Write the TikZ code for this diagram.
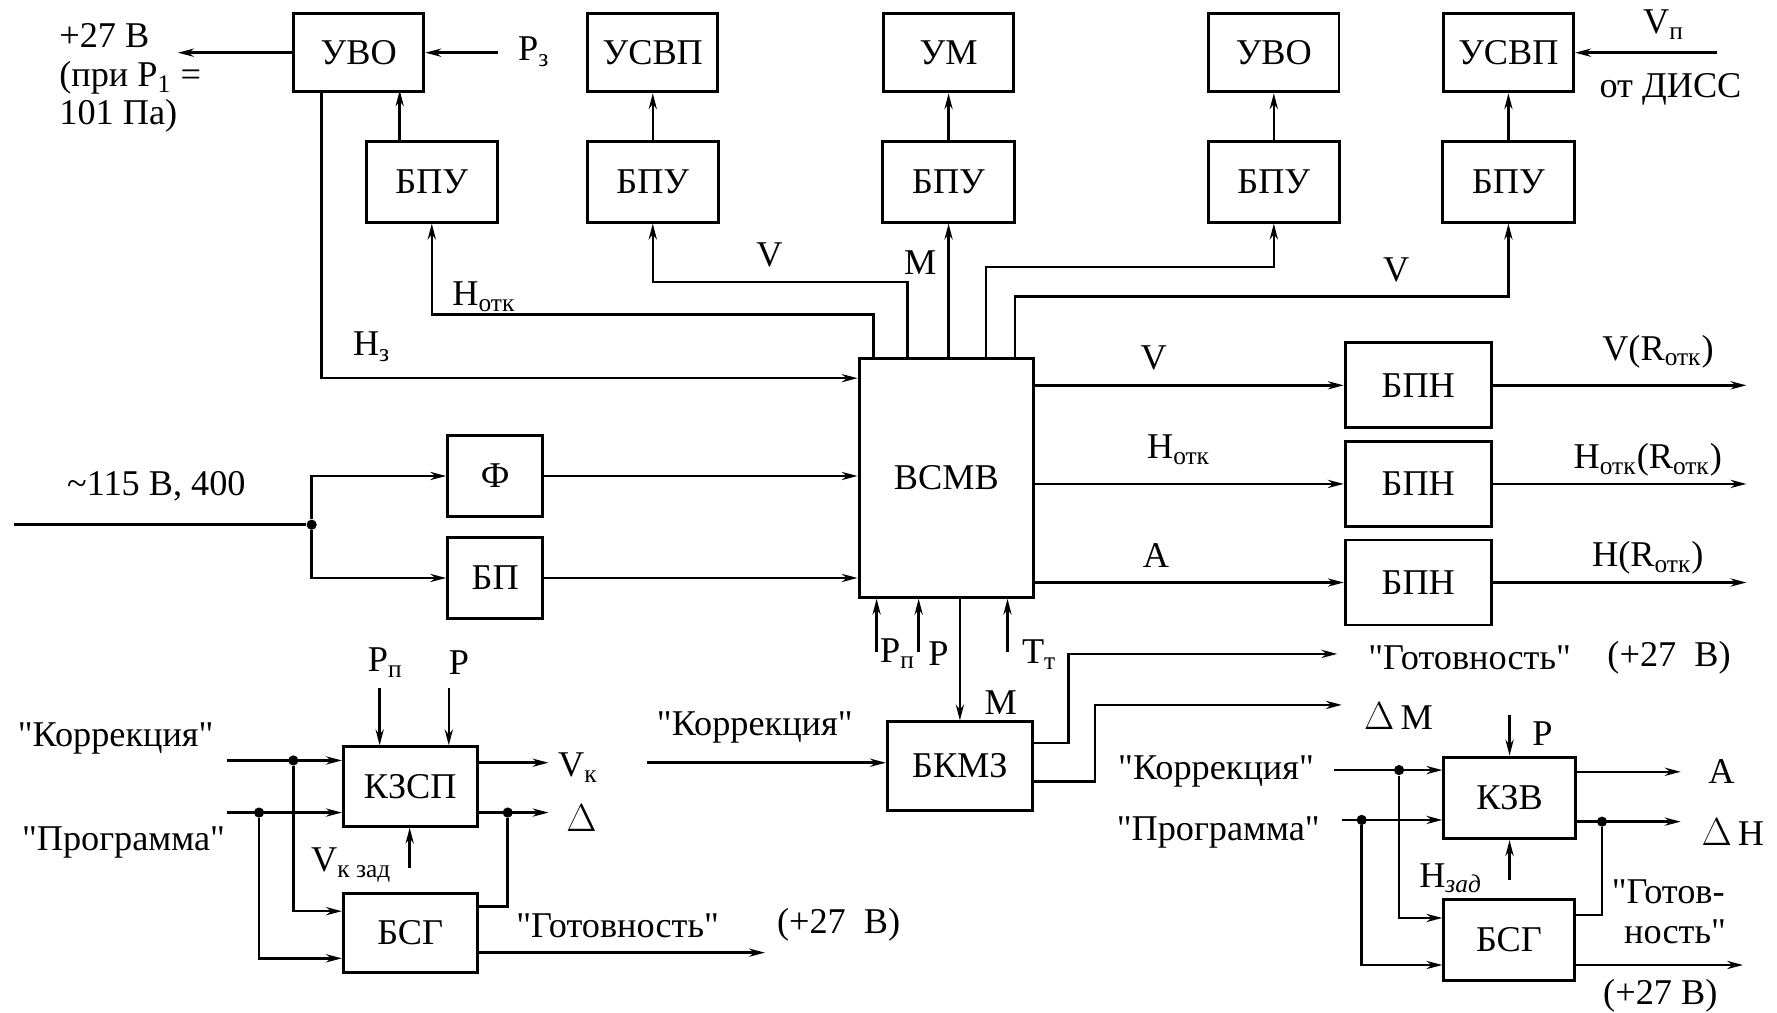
\documentclass[tikz,border=0pt]{standalone}
\usepackage{fontspec}
\setmainfont{Liberation Serif}[Ligatures=TeXOff]
\usetikzlibrary{arrows.meta}
\tikzset{
  blk/.style n args={2}{draw, line width=1.3pt, minimum width=#1, minimum height=#2, inner sep=0pt, font=\fontsize{16}{18}\selectfont},
  wire/.style={line width=1.1pt},
  arr/.style={wire, -{Stealth[length=7pt,width=3.6pt]}},
  lbl/.style={inner sep=0pt, font=\fontsize{16}{18}\selectfont},
  jdot/.style={circle, fill, inner sep=0pt, minimum size=4.5pt},
}
\newcommand{\sbs}[1]{\textsubscript{#1}}
\begin{document}
\begin{tikzpicture}[x=0.5pt,y=-0.5pt]
\useasboundingbox (0,0) rectangle (1568,893);
% ---------- top row ----------
\node[blk={57.5pt}{34.5pt}] (uvo1) at (316.5,46.5) {УВО};
\node[blk={57.5pt}{34.5pt}] (usvp1) at (576,46.5) {УСВП};
\node[blk={57.5pt}{34.5pt}] (um) at (837,46.5) {УМ};
\node[blk={57.5pt}{34.5pt}] (uvo2) at (1124,46.5) {УВО};
\node[blk={57.5pt}{34.5pt}] (usvp2) at (1331,46.5) {УСВП};
\node[blk={58pt}{35.5pt}] (bpu1) at (381,160.5) {БПУ};
\node[blk={58pt}{35.5pt}] (bpu2) at (576,160.5) {БПУ};
\node[blk={58pt}{35.5pt}] (bpu3) at (837,160.5) {БПУ};
\node[blk={58pt}{35.5pt}] (bpu4) at (1124,160.5) {БПУ};
\node[blk={58pt}{35.5pt}] (bpu5) at (1331,160.5) {БПУ};
% ---------- middle ----------
\node[blk={77pt}{105.5pt}] (vsmv) at (835,421.5) {ВСМВ};
\node[blk={42pt}{36pt}] (phi) at (437,420) {Ф};
\node[blk={42pt}{36pt}] (bp) at (437,510) {БП};
\node[blk={64.5pt}{37.5pt}] (bpn1) at (1251.5,340) {БПН};
\node[blk={64.5pt}{37.5pt}] (bpn2) at (1251.5,427) {БПН};
\node[blk={64.5pt}{37.5pt}] (bpn3) at (1251.5,514) {БПН};
\node[blk={64pt}{39pt}] (bkmz) at (847,676) {БКМЗ};
% ---------- bottom groups ----------
\node[blk={59pt}{35pt}] (kzsp) at (362,694) {КЗСП};
\node[blk={59pt}{35pt}] (bsg1) at (362,823) {БСГ};
\node[blk={58pt}{36pt}] (kzv) at (1332,704) {КЗВ};
\node[blk={57.5pt}{35.5pt}] (bsg2) at (1331.5,829.5) {БСГ};

% ---------- free ends ----------
\coordinate (p27) at (157,46.5);
\coordinate (p3in) at (439,46.5);
\coordinate (vpin) at (1515,46.5);
\coordinate (acin) at (12,463);
\coordinate (o1) at (1541,340);
\coordinate (o2) at (1541,427);
\coordinate (o3) at (1541,514);
\coordinate (ppin) at (773.5,575);
\coordinate (pin) at (810.6,575);
\coordinate (ttin) at (889,575);
\coordinate (kbin) at (571,673);
\coordinate (gotov) at (1180,577);
\coordinate (dmout) at (1184,622);
\coordinate (k1) at (200,671);
\coordinate (k2) at (200,717);
\coordinate (kpp) at (335,607);
\coordinate (kp) at (396,607);
\coordinate (kvz) at (361.5,766);
\coordinate (vkout) at (484,673);
\coordinate (dlout) at (484,717);
\coordinate (g1) at (675,840.6);
\coordinate (zk) at (1177.5,679.5);
\coordinate (zp) at (1184,723.5);
\coordinate (zpp) at (1332,631);
\coordinate (zhz) at (1332,776.5);
\coordinate (aout) at (1483,681);
\coordinate (dhout) at (1483,725);
\coordinate (g2) at (1538,851.5);

% ---------- top connectors ----------
\draw[arr] (uvo1.west) -- (p27);
\draw[arr] (p3in) -- (uvo1.east);
\draw[arr] (vpin) -- (usvp2.east);
\draw[arr] ([xshift=15.5pt]bpu1.north west) -- ++(0,-44);
\draw[arr] (bpu2.north) -- (usvp1.south);
\draw[arr] (bpu3.north) -- (um.south);
\draw[arr] (bpu4.north) -- (uvo2.south);
\draw[arr] (bpu5.north) -- (usvp2.south);
\draw[arr] ([xshift=13pt]uvo1.south west) |- ([yshift=-9.5pt]vsmv.north west);
\draw[arr] ([xshift=7pt]vsmv.north west) -- ++(0,-37) -| (bpu1.south);
\draw[arr] ([xshift=22pt]vsmv.north west) -- ++(0,-66) -| (bpu2.south);
\draw[arr] (vsmv.north -| bpu3.south) -- (bpu3.south);
\draw[arr] ([xshift=56.75pt]vsmv.north west) -- ++(0,-79) -| (bpu4.south);
\draw[arr] ([xshift=69.5pt]vsmv.north west) -- ++(0,-53) -| (bpu5.south);

% ---------- power ----------
\node[jdot] (j0) at (275,463) {};
\draw[wire] (acin) -- (j0);
\draw[arr] (j0) |- (phi.west);
\draw[arr] (j0) |- (bp.west);
\draw[arr] (phi.east) -- (phi.east -| vsmv.west);
\draw[arr] (bp.east) -- (bp.east -| vsmv.west);

% ---------- outputs ----------
\draw[arr] (vsmv.east |- bpn1.west) -- (bpn1.west);
\draw[arr] (vsmv.east |- bpn2.west) -- (bpn2.west);
\draw[arr] (vsmv.east |- bpn3.west) -- (bpn3.west);
\draw[arr] (bpn1.east) -- (o1);
\draw[arr] (bpn2.east) -- (o2);
\draw[arr] (bpn3.east) -- (o3);

% ---------- below VSMV ----------
\draw[arr] (ppin) -- (ppin |- vsmv.south);
\draw[arr] (pin) -- (pin |- vsmv.south);
\draw[arr] (ttin) -- (ttin |- vsmv.south);
\draw[arr] (vsmv.south -| bkmz.north) -- (bkmz.north);
\draw[arr] (kbin) -- (kbin -| bkmz.west);
\draw[arr] ([yshift=-10pt]bkmz.north east) -- ++(30.5,0) |- (gotov);
\draw[arr] ([yshift=-27pt]bkmz.north east) -- ++(54,0) |- (dmout);

% ---------- KZSP group ----------
\node[jdot] (j1) at (258.8,671) {};
\node[jdot] (j2) at (228.6,717) {};
\node[jdot] (j3) at (448,717) {};
\draw[arr] (k1) -- (k1 -| kzsp.west);
\draw[arr] (k2) -- (k2 -| kzsp.west);
\draw[arr] (j1) |- ([yshift=9.5pt]bsg1.west);
\draw[arr] (j2) |- ([yshift=-11.3pt]bsg1.west);
\draw[arr] (kpp) -- (kpp |- kzsp.north);
\draw[arr] (kp) -- (kp |- kzsp.north);
\draw[arr] (kvz) -- (kvz |- kzsp.south);
\draw[arr] (vkout -| kzsp.east) -- (vkout);
\draw[arr] (dlout -| kzsp.east) -- (dlout);
\draw[wire] ([yshift=11.5pt]bsg1.east) -| (j3);
\draw[arr] ([yshift=-8.8pt]bsg1.east) -- (g1);

% ---------- KZV group ----------
\node[jdot] (j4) at (1234.5,679.5) {};
\node[jdot] (j5) at (1201.5,723.5) {};
\node[jdot] (j6) at (1413.6,725) {};
\draw[arr] (zk) -- (zk -| kzv.west);
\draw[arr] (zp) -- (zp -| kzv.west);
\draw[arr] (j4) |- ([yshift=9.75pt]bsg2.west);
\draw[arr] (j5) |- ([yshift=-11pt]bsg2.west);
\draw[arr] (zpp) -- (zpp |- kzv.north);
\draw[arr] (zhz) -- (zhz |- kzv.south);
\draw[arr] (aout -| kzv.east) -- (aout);
\draw[arr] (dhout -| kzv.east) -- (dhout);
\draw[wire] ([yshift=11pt]bsg2.east) -| (j6);
\draw[arr] ([yshift=-11pt]bsg2.east) -- (g2);

% ---------- labels ----------
\node[lbl, anchor=west, align=left, font=\fontsize{16}{17}\selectfont] (t27) at (52,69) {+27 В\\(при P\sbs{1} =\\101 Па)};
\node[lbl] (tp3) at (471,46) {P\sbs{з}};
\node[lbl] (tvp) at (1468,22) {V\sbs{п}};
\node[lbl] (tdiss) at (1474,79) {от ДИСС};
\node[lbl] (thotk1) at (427,262) {H\sbs{отк}};
\node[lbl] (th3) at (328,306) {H\sbs{з}};
\node[lbl] (tv1) at (679,225) {V};
\node[lbl] (tm1) at (812,232) {M};
\node[lbl] (tv2) at (1232,238) {V};
\node[lbl] (tac) at (138,429) {\textasciitilde115 В, 400};
\node[lbl] (tv3) at (1018,316) {V};
\node[lbl] (thotk2) at (1040,397) {H\sbs{отк}};
\node[lbl] (ta1) at (1020,490) {A};
\node[lbl] (to1) at (1463,310) {V(R\sbs{отк})};
\node[lbl] (to2) at (1454,406) {H\sbs{отк}(R\sbs{отк})};
\node[lbl] (to3) at (1454,492) {H(R\sbs{отк})};
\node[lbl] (tpp) at (792,577) {P\sbs{п}};
\node[lbl] (tp) at (828,577) {P};
\node[lbl] (ttt) at (917,578) {T\sbs{т}};
\node[lbl] (tm2) at (883,620) {M};
\node[lbl] (tkor0) at (666,642) {"Коррекция"};
\node[lbl, anchor=west] (tgot0) at (1207,580) {"Готовность"};
\node[lbl, anchor=west] (tgot0v) at (1418,580) {(+27~~В)};
\node[lbl] (tdm) at (1234,632) {$\Delta$\,M};
% left group
\node[lbl] (tkor1) at (102,652) {"Коррекция"};
\node[lbl] (tprg1) at (109,743) {"Программа"};
\node[lbl] (tpp1) at (340,585) {P\sbs{п}};
\node[lbl] (tp1) at (405,585) {P};
\node[lbl] (tvz) at (310,763) {V\sbs{к зад}};
\node[lbl] (tvk) at (510,677) {V\sbs{к}};
\node[lbl] (tdl) at (513,722) {$\Delta$};
\node[lbl] (tgot1) at (545,817) {"Готовность"};
\node[lbl] (tgot1v) at (740,816) {(+27~~В)};
% right group
\node[lbl] (tkor2) at (1073,681) {"Коррекция"};
\node[lbl] (tprg2) at (1075,735) {"Программа"};
\node[lbl] (tp2) at (1361,647) {P};
\node[lbl] (thz) at (1280,775) {H\sbs{\itshape зад}};
\node[lbl] (ta2) at (1519,681) {A};
\node[lbl] (tdh) at (1529,734) {$\Delta$\,H};
\node[lbl] (tg2a) at (1472,787) {"Готов-};
\node[lbl] (tg2b) at (1478,822) {ность"};
\node[lbl] (tg2c) at (1465,879) {(+27 В)};
\end{tikzpicture}
\end{document}
